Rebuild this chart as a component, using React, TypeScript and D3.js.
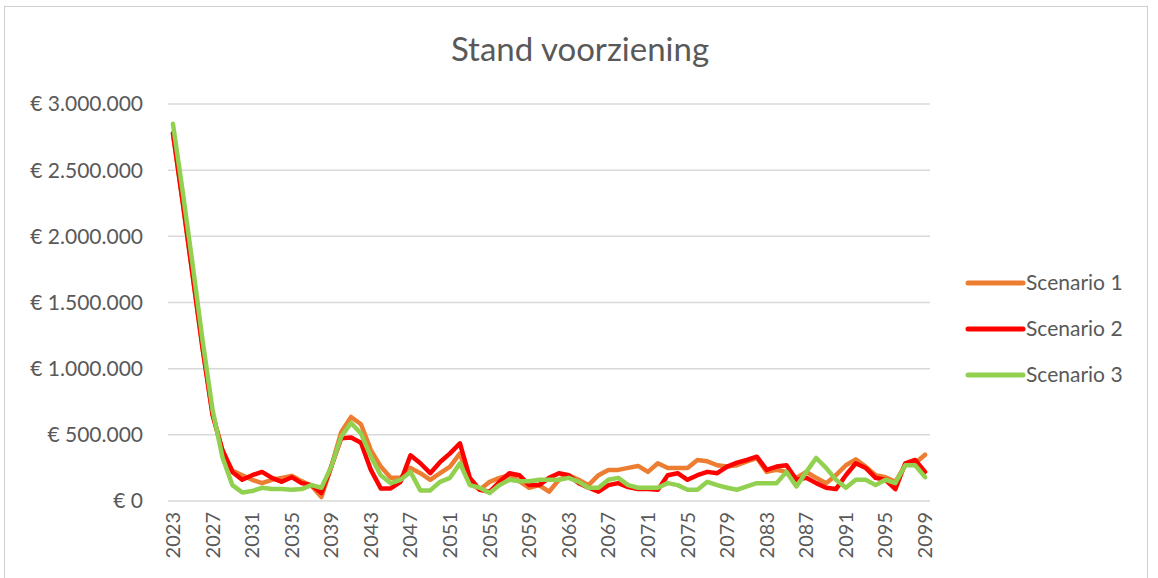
import React, { useRef, useEffect } from "react";
import * as d3 from "d3";

// jaren 2023 t/m 2099
const years = d3.range(2023, 2100);

// stand voorziening per scenario (x 1000 euro)
const scenario1 = [
  2780, 2250, 1700, 1150, 660, 380, 230, 195, 160, 135, 160, 175, 190, 150, 115, 30,
  260, 520, 635, 580, 385, 260, 175, 175, 250, 210, 160, 210, 260, 360, 135, 85,
  145, 175, 195, 150, 100, 120, 70, 160, 195, 160, 120, 195, 235, 235, 250, 265,
  220, 285, 250, 250, 250, 310, 300, 270, 260, 270, 300, 325, 220, 235, 220, 175,
  220, 175, 135, 195, 270, 315, 260, 195, 180, 145, 270, 285, 350,
];
const scenario2 = [
  2780, 2250, 1700, 1150, 650, 385, 220, 160, 195, 220, 175, 145, 180, 135, 120, 60,
  260, 475, 480, 440, 235, 95, 95, 145, 345, 285, 210, 295, 360, 435, 175, 85,
  70, 145, 210, 195, 120, 120, 175, 210, 195, 135, 100, 70, 120, 135, 105, 90,
  90, 85, 195, 210, 160, 195, 220, 210, 260, 290, 310, 335, 235, 260, 270, 160,
  175, 135, 100, 90, 195, 285, 250, 175, 160, 90, 285, 310, 220,
];
const scenario3 = [
  2850, 2330, 1780, 1210, 690, 330, 120, 65, 75, 100, 90, 90, 85, 90, 120, 100,
  260, 485, 590, 510, 335, 195, 135, 160, 220, 80, 80, 145, 175, 285, 120, 100,
  60, 120, 160, 150, 150, 160, 160, 160, 175, 145, 100, 100, 160, 175, 120, 100,
  100, 100, 135, 120, 85, 85, 145, 120, 100, 85, 110, 135, 135, 135, 220, 110,
  220, 325, 250, 160, 100, 160, 160, 120, 160, 135, 270, 270, 180,
];

const seriesNames = ["Scenario 1", "Scenario 2", "Scenario 3"];
const seriesColors = ["#ED7D31", "#FF0000", "#92D050"];
const yTicks = [0, 500000, 1000000, 1500000, 2000000, 2500000, 3000000];
const xTickYears = d3.range(2023, 2100, 4);

const App = () => {
  const chartRef = useRef<HTMLDivElement>(null);

  useEffect(() => {
    const width = 1158;
    const height = 578;
    const font = "Lato, 'Open Sans', sans-serif";
    const textColor = "#595959";

    const series = [scenario1, scenario2, scenario3].map((vals, i) => ({
      name: seriesNames[i],
      color: seriesColors[i],
      values: vals.map((v, j) => ({ year: years[j], value: v * 1000 })),
    }));

    const x = d3.scalePoint<number>()
      .domain(years)
      .range([168, 930])
      .padding(0.5);

    const y = d3.scaleLinear()
      .domain([0, 3000000])
      .range([501, 104]);

    const euro = d3.formatLocale({
      decimal: ",",
      thousands: ".",
      grouping: [3],
      currency: ["€ ", ""],
    }).format("$,.0f");

    const svg = d3.create("svg")
      .attr("width", width)
      .attr("height", height)
      .attr("viewBox", [0, 0, width, height])
      .style("display", "block")
      .style("background", "#fff");

    // rand van de grafiek
    svg.append("rect")
      .attr("x", 4.5)
      .attr("y", 6.5)
      .attr("width", 1143)
      .attr("height", 600)
      .attr("fill", "#fff")
      .attr("stroke", "#d0d0d0");

    svg.append("text")
      .attr("x", 580)
      .attr("y", 61)
      .attr("text-anchor", "middle")
      .attr("font-family", font)
      .attr("font-size", 33)
      .attr("fill", textColor)
      .text("Stand voorziening");

    // rasterlijnen + y-as labels
    const yAxis = svg.append("g");
    yAxis.selectAll("line")
      .data(yTicks)
      .join("line")
      .attr("x1", 168)
      .attr("x2", 930)
      .attr("y1", d => y(d))
      .attr("y2", d => y(d))
      .attr("stroke", "#d9d9d9")
      .attr("stroke-width", 1.5);
    yAxis.selectAll("text")
      .data(yTicks)
      .join("text")
      .attr("x", 143)
      .attr("y", d => y(d))
      .attr("dy", "0.35em")
      .attr("text-anchor", "end")
      .attr("font-family", font)
      .attr("font-size", 21)
      .attr("fill", textColor)
      .text(d => euro(d));

    // x-as labels, gedraaid
    svg.append("g")
      .selectAll("text")
      .data(xTickYears)
      .join("text")
      .attr("transform", d => `translate(${x(d)},512) rotate(-90)`)
      .attr("dy", "0.35em")
      .attr("text-anchor", "end")
      .attr("font-family", font)
      .attr("font-size", 20)
      .attr("fill", textColor)
      .text(d => d);

    const line = d3.line<{ year: number; value: number }>()
      .x(d => x(d.year) as number)
      .y(d => y(d.value));

    svg.append("g")
      .selectAll("path")
      .data(series)
      .join("path")
      .attr("d", d => line(d.values))
      .attr("fill", "none")
      .attr("stroke", d => d.color)
      .attr("stroke-width", 4.5)
      .attr("stroke-linejoin", "round")
      .attr("stroke-linecap", "round");

    const legend = svg.append("g");
    series.forEach((s, i) => {
      const row = legend.append("g")
        .attr("transform", `translate(968,${283 + i * 46})`);
      row.append("line")
        .attr("x1", 0)
        .attr("x2", 55)
        .attr("stroke", s.color)
        .attr("stroke-width", 5)
        .attr("stroke-linecap", "round");
      row.append("text")
        .attr("x", 58)
        .attr("dy", "0.35em")
        .attr("font-family", font)
        .attr("font-size", 21)
        .attr("fill", textColor)
        .text(s.name);
    });

    if (chartRef.current) {
      chartRef.current.innerHTML = "";
      chartRef.current.appendChild(svg.node() as SVGSVGElement);
    }
  }, []);

  return <div ref={chartRef} style={{ position: "absolute", left: 0, top: 0 }} />;
};

export default App;
